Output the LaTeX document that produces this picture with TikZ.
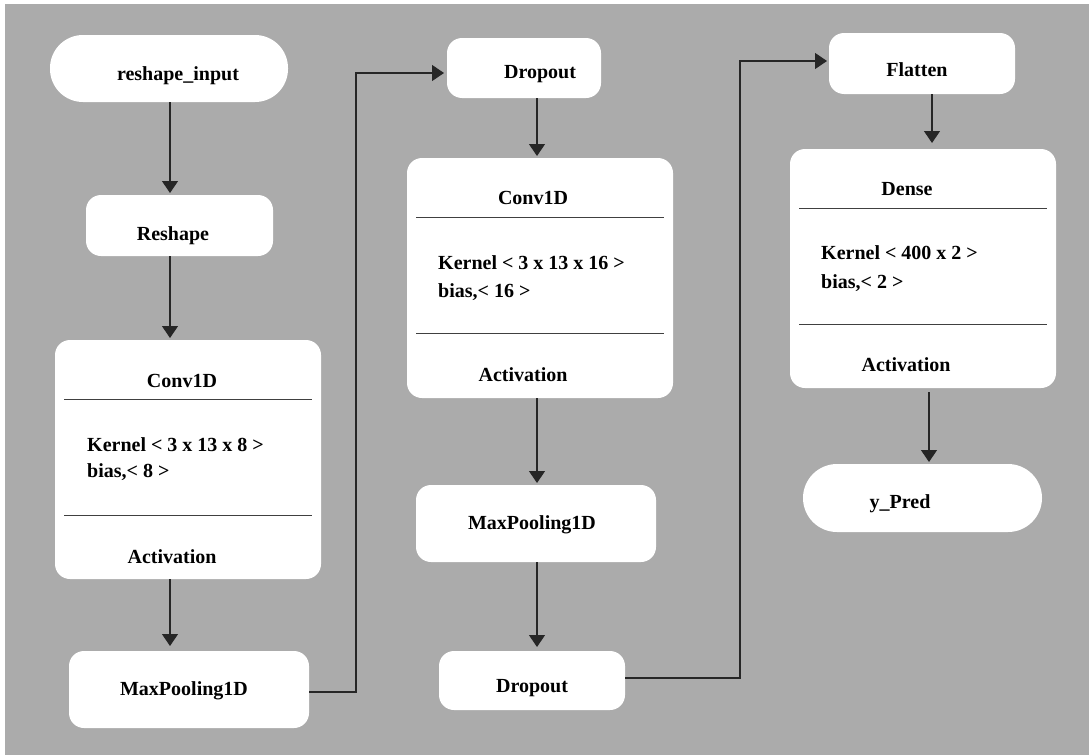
\documentclass[tikz,border=0pt]{standalone}
\usepackage{fontspec}
\setmainfont{Liberation Serif}
\usetikzlibrary{arrows.meta}
\definecolor{panel}{HTML}{ABABAB}
\begin{document}
\begin{tikzpicture}[x=1pt,y=-1pt,
  box/.style={fill=white, draw=none, rounded corners=15pt, inner sep=0pt, outer sep=0pt},
  lbl/.style={font=\fontsize{20}{24}\selectfont\bfseries, inner sep=0pt, anchor=base},
  lbll/.style={lbl, anchor=base west},
  arr/.style={draw=black!85, line width=1.2pt, -{Triangle[width=16pt,length=12pt]}},
  link/.style={draw=black!80, line width=1.3pt},
  div/.style={draw=black!75, line width=1pt}]

\useasboundingbox (0,0) rectangle (1089,755);
\fill[white] (0,0) rectangle (1089,755);
\fill[panel] (5,4) rectangle (1089,755);

% ---- boxes ----
\node[box, rounded corners=33pt, minimum width=238pt, minimum height=67pt] (inp) at (169,68.5) {};
\node[box, minimum width=187pt, minimum height=61pt] (reshape) at (179.5,225.5) {};
\node[box, minimum width=266pt, minimum height=239pt] (conv1) at (188,459.5) {};
\node[box, minimum width=240pt, minimum height=77pt] (mp1) at (189,689.5) {};
\node[box, minimum width=154pt, minimum height=60pt] (do1) at (524,68) {};
\node[box, minimum width=266pt, minimum height=240pt] (conv2) at (540,278) {};
\node[box, minimum width=240pt, minimum height=77pt] (mp2) at (536,523.5) {};
\node[box, minimum width=186pt, minimum height=59pt] (do2) at (532,680.5) {};
\node[box, minimum width=186pt, minimum height=61pt] (flat) at (922,63.5) {};
\node[box, minimum width=266pt, minimum height=239pt] (dense) at (923,268.5) {};
\node[box, rounded corners=34pt, minimum width=239pt, minimum height=68pt] (pred) at (922.5,498) {};

% ---- dividers inside the layer boxes ----
\foreach \b in {conv1,conv2,dense}{
  \draw[div] ([shift={(9,59.5)}]\b.north west) -- ([shift={(-9,59.5)}]\b.north east);
  \draw[div] ([shift={(9,175)}]\b.north west) -- ([shift={(-9,175)}]\b.north east);
}

% ---- labels ----
\node[lbl] (t-inp) at (178,80) {reshape\_input};
\node[lbl] (t-reshape) at (173,240) {Reshape};
\node[lbl] (t-conv1) at (182,387) {Conv1D};
\node[lbll] (t-k1) at (87,451) {Kernel < 3 x 13 x 8 >};
\node[lbll] (t-b1) at (87,477) {bias,< 8 >};
\node[lbl] (t-a1) at (172,563) {Activation};
\node[lbl] (t-mp1) at (184,695) {MaxPooling1D};
\node[lbl] (t-do1) at (540,78) {Dropout};
\node[lbl] (t-conv2) at (533,204) {Conv1D};
\node[lbll] (t-k2) at (438,269) {Kernel < 3 x 13 x 16 >};
\node[lbll] (t-b2) at (438,297) {bias,< 16 >};
\node[lbl] (t-a2) at (523,381) {Activation};
\node[lbl] (t-mp2) at (532,529) {MaxPooling1D};
\node[lbl] (t-do2) at (532,692) {Dropout};
\node[lbl] (t-flat) at (917,76) {Flatten};
\node[lbl] (t-dense) at (907,195) {Dense};
\node[lbll] (t-k3) at (821,259) {Kernel < 400 x 2 >};
\node[lbll] (t-b3) at (821,288) {bias,< 2 >};
\node[lbl] (t-a3) at (906,371) {Activation};
\node[lbl] (t-pred) at (900,508) {y\_Pred};

% ---- connector routing points ----
\coordinate (c1) at (170,0);
\coordinate (c2) at (537,0);
\coordinate (c3) at (932,0);
\coordinate (c4) at (929,0);
\coordinate (j1) at (356,692);
\coordinate (j2) at (356,73);
\coordinate (j3) at (740,678);
\coordinate (j4) at (740,61);

% ---- connectors ----
\draw[arr, shorten >=2pt] (c1 |- inp.south) -- (c1 |- reshape.north);
\draw[arr, shorten >=2pt] (c1 |- reshape.south) -- (c1 |- conv1.north);
\draw[arr, shorten >=5pt] (c1 |- conv1.south) -- (c1 |- mp1.north);
\draw[arr, shorten >=3pt] (mp1.east |- j1) -- (j1) -- (j2) -- (j2 -| do1.west);
\draw[arr, shorten >=2pt] (c2 |- do1.south) -- (c2 |- conv2.north);
\draw[arr, shorten >=2pt] (c2 |- conv2.south) -- (c2 |- mp2.north);
\draw[arr, shorten >=4pt] (c2 |- mp2.south) -- (c2 |- do2.north);
\draw[arr, shorten >=2pt] (do2.east |- j3) -- (j3) -- (j4) -- (j4 -| flat.west);
\draw[arr, shorten >=6pt] (c3 |- flat.south) -- (c3 |- dense.north);
\draw[arr, shorten <=4pt, shorten >=2pt] (c4 |- dense.south) -- (c4 |- pred.north);

\end{tikzpicture}
\end{document}
